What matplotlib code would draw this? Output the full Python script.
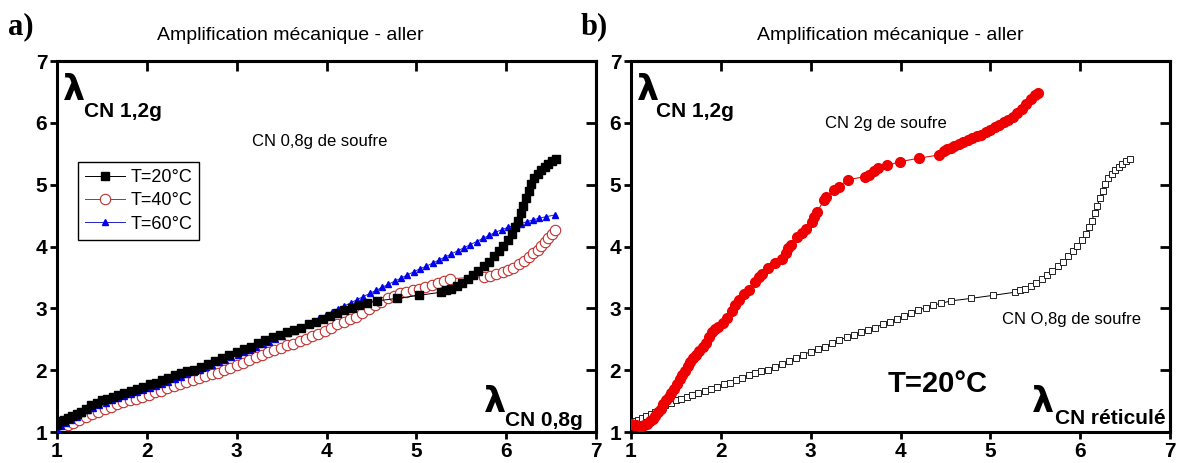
import matplotlib
matplotlib.use("Agg")
import matplotlib.pyplot as plt
from matplotlib import font_manager as fm

# ---------------- data ----------------
# Panel a) CN 0,8g de soufre
x_20 = [1.00,1.04,1.08,1.12,1.17,1.22,1.27,1.32,1.38,1.44,1.50,1.56,1.62,1.68,1.75,1.82,1.89,1.96,2.03,2.10,
        2.17,2.24,2.31,2.38,2.45,2.52,2.60,2.68,2.76,2.84,2.92,3.00,3.08,3.16,3.24,3.32,3.40,3.48,3.56,3.64,
        3.72,3.80,3.88,3.96,4.04,4.12,4.20,4.28,4.36,4.45,4.56,4.78,5.03,5.27,5.33,5.39,5.45,5.51,5.57,5.63,
        5.69,5.75,5.81,5.87,5.92,5.97,6.02,6.06,6.10,6.13,6.16,6.19,6.22,6.25,6.28,6.31,6.35,6.39,6.43,6.47,
        6.51,6.55]
y_20 = [1.12,1.17,1.20,1.23,1.26,1.29,1.33,1.38,1.43,1.47,1.51,1.54,1.57,1.60,1.63,1.66,1.69,1.73,1.77,1.80,
        1.84,1.88,1.92,1.96,1.99,2.01,2.05,2.10,2.15,2.20,2.25,2.30,2.35,2.38,2.44,2.49,2.53,2.57,2.61,2.65,
        2.69,2.74,2.78,2.82,2.87,2.93,2.97,3.01,3.05,3.08,3.12,3.16,3.21,3.26,3.29,3.32,3.36,3.41,3.47,3.54,
        3.61,3.68,3.75,3.84,3.92,4.01,4.10,4.20,4.31,4.42,4.54,4.66,4.78,4.90,5.01,5.10,5.18,5.24,5.29,5.34,
        5.38,5.42]

x_40 = [1.00,1.06,1.12,1.18,1.25,1.32,1.39,1.46,1.53,1.60,1.67,1.74,1.81,1.88,1.95,2.02,2.09,2.16,2.23,2.30,
        2.37,2.44,2.51,2.58,2.65,2.72,2.79,2.86,2.93,3.00,3.07,3.14,3.21,3.28,3.35,3.42,3.49,3.56,3.63,3.70,
        3.77,3.84,3.91,3.98,4.05,4.12,4.19,4.26,4.33,4.40,4.47,4.54,4.61,4.68,4.75,4.82,4.89,4.96,5.03,5.10,
        5.17,5.24,5.31,5.38,5.75,5.82,5.89,5.96,6.02,6.08,6.14,6.20,6.25,6.30,6.35,6.39,6.43,6.47,6.51,6.54]
y_40 = [1.02,1.07,1.11,1.15,1.20,1.24,1.29,1.33,1.37,1.41,1.45,1.48,1.51,1.54,1.57,1.60,1.64,1.67,1.71,1.74,
        1.78,1.81,1.84,1.87,1.90,1.93,1.96,2.00,2.04,2.08,2.12,2.17,2.21,2.25,2.29,2.32,2.36,2.40,2.43,2.47,
        2.51,2.55,2.59,2.64,2.69,2.74,2.78,2.82,2.86,2.92,2.99,3.05,3.11,3.16,3.20,3.24,3.27,3.30,3.32,3.35,
        3.38,3.41,3.44,3.48,3.51,3.53,3.56,3.59,3.62,3.66,3.71,3.77,3.83,3.89,3.95,4.01,4.07,4.13,4.20,4.27]

x_60 = [1.00,1.05,1.10,1.16,1.22,1.28,1.34,1.40,1.47,1.54,1.61,1.68,1.75,1.82,1.89,1.96,2.03,2.10,2.17,2.24,
        2.31,2.38,2.45,2.52,2.59,2.66,2.73,2.80,2.87,2.94,3.01,3.08,3.15,3.22,3.29,3.36,3.43,3.50,3.57,3.64,
        3.71,3.78,3.85,3.92,3.99,4.06,4.13,4.20,4.27,4.34,4.41,4.48,4.55,4.62,4.69,4.76,4.83,4.90,4.97,5.04,
        5.11,5.18,5.25,5.32,5.39,5.46,5.53,5.60,5.67,5.74,5.81,5.88,5.95,6.02,6.09,6.16,6.23,6.30,6.37,6.44,
        6.54]
y_60 = [1.05,1.10,1.15,1.20,1.25,1.30,1.35,1.39,1.43,1.47,1.51,1.55,1.58,1.62,1.65,1.68,1.71,1.74,1.77,1.81,
        1.85,1.89,1.93,1.97,2.01,2.05,2.09,2.13,2.17,2.21,2.25,2.29,2.33,2.37,2.42,2.46,2.51,2.55,2.60,2.64,
        2.69,2.74,2.79,2.84,2.89,2.94,2.99,3.04,3.09,3.14,3.19,3.24,3.29,3.34,3.39,3.44,3.49,3.54,3.59,3.64,
        3.68,3.73,3.78,3.83,3.88,3.93,3.98,4.03,4.08,4.13,4.18,4.23,4.27,4.31,4.34,4.37,4.40,4.43,4.46,4.48,
        4.51]

# Panel b) CN 2g de soufre, T=20°C
x_2g = [1.00,1.03,1.06,1.09,1.12,1.15,1.18,1.21,1.24,1.27,1.30,1.33,1.36,1.39,1.42,1.45,1.48,1.51,1.54,1.57,
        1.60,1.63,1.66,1.69,1.72,1.76,1.80,1.84,1.87,1.90,1.93,1.97,2.02,2.07,2.12,2.16,2.20,2.26,2.31,2.38,
        2.42,2.46,2.53,2.60,2.68,2.72,2.75,2.78,2.85,2.90,2.95,3.01,3.04,3.07,3.15,3.17,3.26,3.31,3.42,3.60,
        3.65,3.70,3.75,3.85,3.99,4.21,4.43,4.48,4.52,4.56,4.60,4.65,4.70,4.75,4.80,4.85,4.90,4.95,5.00,5.05,
        5.10,5.15,5.20,5.25,5.30,5.35,5.40,5.45,5.50,5.53]
y_2g = [1.13,1.12,1.11,1.10,1.10,1.11,1.13,1.17,1.21,1.26,1.32,1.38,1.45,1.51,1.57,1.63,1.70,1.77,1.85,1.92,
        1.99,2.06,2.13,2.19,2.25,2.31,2.37,2.44,2.53,2.61,2.66,2.70,2.76,2.84,2.96,3.05,3.13,3.23,3.30,3.43,
        3.50,3.56,3.65,3.73,3.79,3.90,3.97,4.03,4.15,4.22,4.29,4.40,4.48,4.56,4.75,4.80,4.92,4.97,5.08,5.13,
        5.16,5.22,5.27,5.31,5.37,5.43,5.48,5.54,5.57,5.59,5.62,5.66,5.69,5.72,5.75,5.78,5.81,5.85,5.89,5.93,
        5.97,6.01,6.05,6.10,6.16,6.22,6.30,6.38,6.45,6.49]

ticks = [1, 2, 3, 4, 5, 6, 7]
legend_labels = ["T=20°C", "T=40°C", "T=60°C"]
title = "Amplification mécanique - aller"

# ---------------- style ----------------
names = {f.name for f in fm.fontManager.ttflist}
narrow = "Liberation Sans Narrow" if "Liberation Sans Narrow" in names else "Liberation Sans"
plt.rcParams["font.family"] = [narrow, "DejaVu Sans"]

fig = plt.figure(figsize=(11.82, 4.63), dpi=100)
W, H = 1182, 463
def axrect(l, t, r, b):
    return [l / W, 1 - b / H, (r - l) / W, (b - t) / H]

ax_a = fig.add_axes(axrect(57, 61, 596, 432))
ax_b = fig.add_axes(axrect(631, 61, 1170, 432))

def style(ax):
    ax.set_xlim(1, 7)
    ax.set_ylim(1, 7)
    ax.set_xticks(ticks)
    ax.set_yticks(ticks)
    for s in ax.spines.values():
        s.set_linewidth(2.2)
    ax.tick_params(direction="out", length=5, width=2, labelsize=15, pad=2)
    for lab in ax.get_xticklabels() + ax.get_yticklabels():
        lab.set_fontweight("bold")
    top = ax.secondary_xaxis("top")
    top.set_xticks(ticks)
    top.tick_params(direction="in", length=7, width=2, labeltop=False)
    top.spines["top"].set_linewidth(2.2)
    right = ax.secondary_yaxis("right")
    right.set_yticks(ticks)
    right.tick_params(direction="in", length=7, width=2, labelright=False)
    right.spines["right"].set_linewidth(2.2)

style(ax_a)
style(ax_b)

# ---- panel a ----
ax_a.plot(x_60, y_60, color="#2222cc", lw=0.7, marker="^", ms=5, mfc="#0000ee", mec="#0000ee",
          label=legend_labels[2], zorder=3)
ax_a.plot(x_40, y_40, color="#cc2222", lw=0.7, marker="o", ms=7.5, mfc="white", mec="#c03030",
          mew=0.8, label=legend_labels[1], zorder=2)
ax_a.plot(x_20, y_20, color="black", lw=0.7, marker="s", ms=6, mfc="black", mec="black",
          label=legend_labels[0], zorder=4)
h, l = ax_a.get_legend_handles_labels()
order = [2, 1, 0]
leg = ax_a.legend([h[i] for i in order], [l[i] for i in order], loc="upper left",
                  bbox_to_anchor=(0.039, 0.728), borderaxespad=0, fancybox=False,
                  edgecolor="black", framealpha=1, fontsize=13, handlelength=2.2,
                  handletextpad=0.3, borderpad=0.4, labelspacing=0.35)
leg.get_frame().set_linewidth(1.0)

bold_kw = dict(fontweight="bold")
fig.text(63 / W, 1 - 100 / H, "λ", fontsize=25, fontweight="bold", family="DejaVu Sans")
fig.text(84 / W, 1 - 117 / H, "CN 1,2g", fontsize=15, **bold_kw)
fig.text(320 / W, 1 - 146 / H, "CN 0,8g de soufre", fontsize=12, ha="center")
fig.text(484 / W, 1 - 412 / H, "λ", fontsize=25, fontweight="bold", family="DejaVu Sans")
fig.text(505 / W, 1 - 426 / H, "CN 0,8g", fontsize=15, **bold_kw)

# ---- panel b ----
ax_b.plot(x_20, y_20, color="black", lw=0.7, marker="s", ms=5, mfc="white", mec="#222222",
          mew=0.7, zorder=2)
ax_b.plot(x_2g, y_2g, color="#e01010", lw=0.8, marker="o", ms=7, mfc="#ee0000", mec="#ee0000",
          zorder=3)
fig.text(637 / W, 1 - 100 / H, "λ", fontsize=25, fontweight="bold", family="DejaVu Sans")
fig.text(656 / W, 1 - 117 / H, "CN 1,2g", fontsize=15, **bold_kw)
fig.text(886 / W, 1 - 128 / H, "CN 2g de soufre", fontsize=12, ha="center")
fig.text(1071 / W, 1 - 324 / H, "CN O,8g de soufre", fontsize=12, ha="center")
fig.text(938 / W, 1 - 392 / H, "T=20°C", fontsize=21, fontweight="bold", ha="center")
fig.text(1032 / W, 1 - 412 / H, "λ", fontsize=25, fontweight="bold", family="DejaVu Sans")
fig.text(1055 / W, 1 - 424 / H, "CN réticulé", fontsize=15, **bold_kw)

# ---- titles and panel letters ----
fig.text(290 / W, 1 - 40 / H, title, fontsize=14, ha="center")
fig.text(890 / W, 1 - 40 / H, title, fontsize=14, ha="center")
fig.text(8 / W, 1 - 34 / H, "a)", fontsize=22, fontweight="bold", family="Liberation Serif")
fig.text(581 / W, 1 - 34 / H, "b)", fontsize=22, fontweight="bold", family="Liberation Serif")

fig.savefig("out.png", dpi=100)
